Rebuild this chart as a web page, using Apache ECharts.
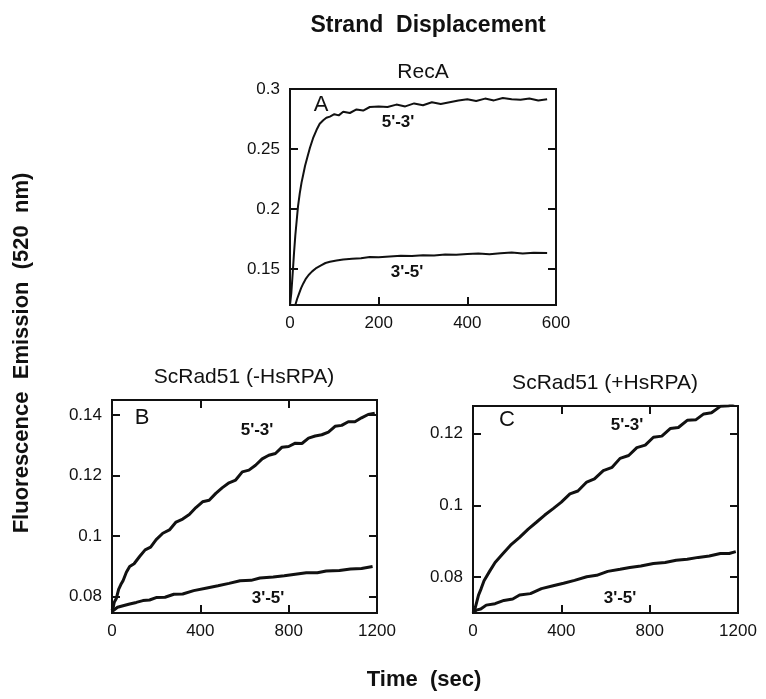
<!DOCTYPE html>
<html>
<head>
<meta charset="utf-8">
<script src="https://cdn.jsdelivr.net/npm/echarts@6/dist/echarts.min.js"></script>
<style>
  html, body { margin: 0; padding: 0; background: #fff; }
  #chart { width: 766px; height: 699px; }
</style>
</head>
<body>
<div id="chart"></div>
<script>
// RecA panel (A)
const aTime53 = [0,3,6,9,12,15,18,22,26,30,34,39,45,52,60,67,75,82,90,100,110,120,135,150,165,180,200,220,240,260,280,300,320,340,360,380,400,420,440,460,480,500,520,540,560,580];
const aVal53 = [0.120,0.130,0.146,0.163,0.178,0.190,0.202,0.213,0.222,0.229,0.236,0.243,0.251,0.259,0.266,0.271,0.274,0.276,0.277,0.279,0.278,0.281,0.280,0.283,0.282,0.285,0.2855,0.285,0.287,0.2855,0.288,0.2865,0.289,0.2875,0.289,0.2905,0.2915,0.290,0.292,0.2905,0.2925,0.2915,0.291,0.292,0.2905,0.2915];
const aTime35 = [12,16,20,25,30,36,42,50,60,70,80,90,105,120,140,160,180,200,225,250,275,300,325,350,375,400,425,450,475,500,525,550,580];
const aVal35 = [0.120,0.125,0.129,0.134,0.138,0.142,0.145,0.148,0.151,0.153,0.155,0.156,0.157,0.158,0.1585,0.159,0.160,0.1598,0.1605,0.161,0.1608,0.1615,0.1612,0.162,0.1618,0.1625,0.163,0.1622,0.1632,0.1638,0.163,0.1636,0.1634];

// ScRad51 -HsRPA panel (B)
const bTime53 = [0,5,10,15,20,30,40,50,65,80,100,125,150,175,200,230,260,290,320,350,380,410,440,470,500,530,560,590,620,650,680,710,740,770,800,830,860,890,920,950,980,1010,1040,1070,1100,1130,1160,1190];
const bVal53 = [0.0754,0.0762,0.0780,0.0786,0.0794,0.0823,0.0839,0.0852,0.0880,0.0899,0.0908,0.0932,0.0954,0.0963,0.0988,0.1009,0.1020,0.1046,0.1056,0.1071,0.1094,0.1113,0.1118,0.1141,0.1160,0.1176,0.1185,0.1212,0.1218,0.1234,0.1255,0.1267,0.1273,0.1294,0.1296,0.1307,0.1306,0.1324,0.1331,0.1335,0.1344,0.1363,0.1366,0.1378,0.1378,0.1391,0.1402,0.1406];
const bTime35 = [0,25,50,80,110,140,170,200,240,280,320,370,430,480,530,580,630,670,730,780,830,880,930,970,1030,1080,1130,1180];
const bVal35 = [0.0750,0.0764,0.0769,0.0775,0.0780,0.0786,0.0788,0.0796,0.0797,0.0807,0.0808,0.0819,0.0828,0.0835,0.0843,0.0852,0.0853,0.0861,0.0864,0.0868,0.0873,0.0878,0.0878,0.0884,0.0886,0.0891,0.0892,0.0899];

// ScRad51 +HsRPA panel (C)
const cTime53 = [0,5,10,15,25,37,50,75,100,135,170,211,250,287,325,363,400,439,475,515,550,590,630,666,705,742,780,817,855,893,930,970,1010,1045,1080,1120,1160,1195];
const cVal53 = [0.0700,0.0706,0.0714,0.0719,0.0750,0.0768,0.0790,0.0816,0.0841,0.0865,0.0889,0.0911,0.0934,0.0953,0.0973,0.0991,0.1009,0.1032,0.1040,0.1065,0.1074,0.1097,0.1106,0.1131,0.1139,0.1161,0.1168,0.1190,0.1193,0.1214,0.1217,0.1237,0.1239,0.1255,0.1258,0.1276,0.1278,0.1291];
const cTime35 = [0,15,35,60,100,140,180,211,260,310,363,410,460,515,560,610,666,710,760,817,870,920,970,1020,1070,1120,1160,1190];
const cVal35 = [0.0700,0.0708,0.0711,0.0722,0.0726,0.0735,0.0739,0.0750,0.0754,0.0768,0.0776,0.0783,0.0791,0.0801,0.0805,0.0816,0.0822,0.0827,0.0831,0.0838,0.0841,0.0847,0.0850,0.0855,0.0859,0.0866,0.0866,0.0871];

// tick labels
const aTicksX = [0, 200, 400, 600];
const aTicksY = [0.15, 0.2, 0.25, 0.3];
const bcTicksX = [0, 400, 800, 1200];
const bTicksY = [0.08, 0.1, 0.12, 0.14];
const cTicksY = [0.08, 0.1, 0.12];

const ink = '#111';
const fam = '"Liberation Sans", Arial, sans-serif';
const labelFont = { color: ink, fontSize: 17, fontFamily: fam, formatter: v => String(v) };

function pair(t, v) {
  return t.map((x, i) => [x, v[i]]);
}

const panels = [
  { grid: { left: 290, top: 89, width: 266, height: 216 }, x: [0, 600], y: [0.12, 0.3], tx: aTicksX, ty: aTicksY, top: false, lw: 2,
    lines: [pair(aTime53, aVal53), pair(aTime35, aVal35)] },
  { grid: { left: 112, top: 400, width: 265, height: 213 }, x: [0, 1200], y: [0.0745, 0.145], tx: bcTicksX, ty: bTicksY, top: true, lw: 3,
    lines: [pair(bTime53, bVal53), pair(bTime35, bVal35)] },
  { grid: { left: 473, top: 406, width: 265, height: 207 }, x: [0, 1200], y: [0.07, 0.1277], tx: bcTicksX, ty: cTicksY, top: true, lw: 3,
    lines: [pair(cTime53, cVal53), pair(cTime35, cVal35)] }
];

const grid = [], xAxis = [], yAxis = [], series = [];
panels.forEach((p, i) => {
  grid.push(Object.assign({ show: true, borderColor: ink, borderWidth: 2, containLabel: false }, p.grid));
  const tick = { inside: true, length: 8, lineStyle: { color: ink, width: 2 } };
  const noLine = { show: false, onZero: false };
  // bottom x axis with labels
  xAxis.push({
    type: 'value', gridIndex: i, min: p.x[0], max: p.x[1], position: 'bottom',
    axisLine: noLine, splitLine: { show: false },
    axisTick: Object.assign({ customValues: p.tx }, tick),
    axisLabel: Object.assign({ customValues: p.tx, margin: 10 }, labelFont)
  });
  // top x axis, ticks only
  xAxis.push({
    type: 'value', gridIndex: i, min: p.x[0], max: p.x[1], position: 'top',
    axisLine: noLine, splitLine: { show: false },
    axisTick: Object.assign({ show: p.top, customValues: p.tx }, tick),
    axisLabel: { show: false }
  });
  yAxis.push({
    type: 'value', gridIndex: i, min: p.y[0], max: p.y[1], position: 'left',
    axisLine: noLine, splitLine: { show: false },
    axisTick: Object.assign({ customValues: p.ty }, tick),
    axisLabel: Object.assign({ customValues: p.ty, margin: 10 }, labelFont)
  });
  // right y axis, ticks only
  yAxis.push({
    type: 'value', gridIndex: i, min: p.y[0], max: p.y[1], position: 'right',
    axisLine: noLine, splitLine: { show: false },
    axisTick: Object.assign({ customValues: p.ty }, tick),
    axisLabel: { show: false }
  });
  p.lines.forEach(d => {
    series.push({
      type: 'line', xAxisIndex: i * 2, yAxisIndex: i * 2, data: d,
      showSymbol: false, smooth: false, clip: true,
      lineStyle: { color: ink, width: p.lw }, itemStyle: { color: ink }
    });
  });
});

function txt(text, x, y, font, rotation) {
  return {
    type: 'text', x: x, y: y, rotation: rotation || 0,
    style: { text: text, fill: ink, font: font, textAlign: 'center', textVerticalAlign: 'middle' }
  };
}

const lab = 'bold 17px ' + fam;
const panelTitle = '21px ' + fam;
const graphic = [
  txt('Strand  Displacement', 428, 26, 'bold 23px ' + fam),
  txt('RecA', 423, 72, panelTitle),
  txt('ScRad51 (-HsRPA)', 244, 377, panelTitle),
  txt('ScRad51 (+HsRPA)', 605, 383, panelTitle),
  txt('Fluorescence  Emission  (520  nm)', 22, 353, 'bold 22px ' + fam, Math.PI / 2),
  txt('Time  (sec)', 424, 680, 'bold 22px ' + fam),
  txt('A', 321, 105, '22px ' + fam),
  txt('B', 142, 418, '22px ' + fam),
  txt('C', 507, 420, '22px ' + fam),
  txt("5'-3'", 398, 122, lab),
  txt("3'-5'", 407, 272, lab),
  txt("5'-3'", 257, 430, lab),
  txt("3'-5'", 268, 598, lab),
  txt("5'-3'", 627, 425, lab),
  txt("3'-5'", 620, 598, lab)
];

const chart = echarts.init(document.getElementById('chart'), null, { renderer: 'canvas' });
chart.setOption({
  animation: false,
  backgroundColor: '#fff',
  grid: grid,
  xAxis: xAxis,
  yAxis: yAxis,
  series: series,
  graphic: graphic
});
</script>
</body>
</html>
